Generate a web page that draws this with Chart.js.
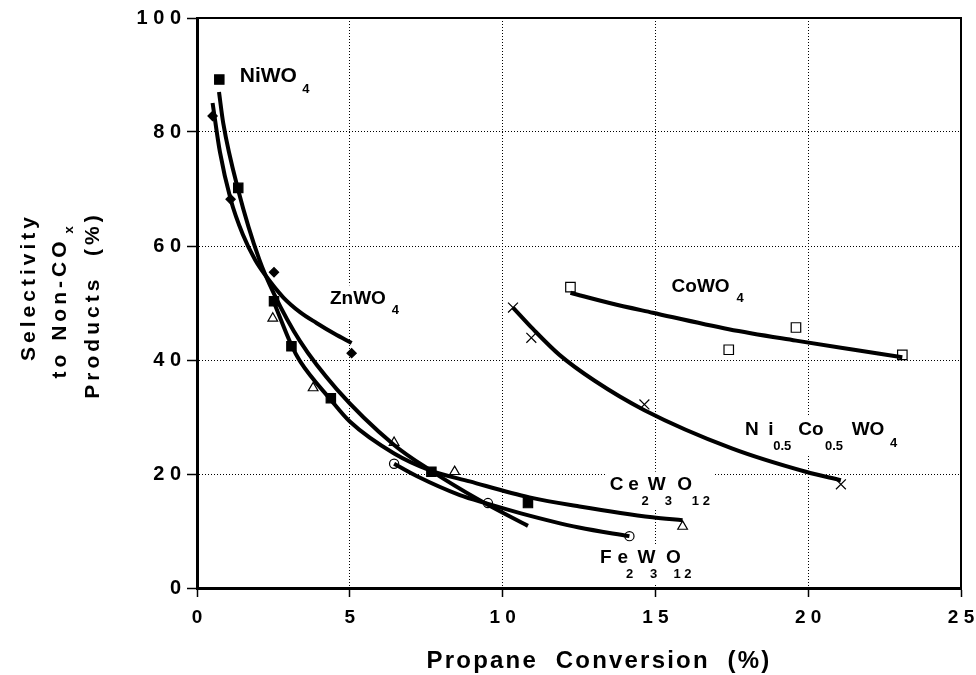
<!DOCTYPE html>
<html>
<head>
<meta charset="utf-8">
<script src="https://cdn.jsdelivr.net/npm/chart.js@4.4.0/dist/chart.umd.min.js"></script>
<style>
  html, body { margin: 0; padding: 0; background: #fff; }
  #wrap { width: 976px; height: 675px; }
</style>
</head>
<body>
<div id="wrap"><canvas id="chart" width="976" height="675"></canvas></div>
<script>
// axis ticks
const xTicks = [0, 5, 10, 15, 20, 25];
const yTicks = [0, 20, 40, 60, 80, 100];

// measured points (propane conversion %, selectivity %)
const niwoX = [0.73, 1.35, 2.52, 3.09, 4.38, 7.67, 10.83];
const niwoY = [89.2, 70.2, 50.3, 42.4, 33.3, 20.4, 14.9];
const znwoX = [0.51, 1.10, 2.52, 5.06];
const znwoY = [82.8, 68.2, 55.4, 41.2];
const cewoX = [2.48, 3.80, 6.45, 8.43, 15.89];
const cewoY = [47.3, 35.1, 25.5, 20.4, 10.8];
const fewoX = [6.45, 9.52, 14.15];
const fewoY = [21.8, 14.9, 9.1];
const cowoX = [12.22, 17.4, 19.6, 23.08];
const cowoY = [52.8, 41.8, 45.7, 40.9];
const nicoX = [10.34, 10.94, 14.64, 21.07];
const nicoY = [49.2, 43.9, 32.2, 18.2];

// fitted curves
const niwoFitX = [0.72, 0.86, 1.35, 2.04, 2.52, 3.37, 4.57, 6.45, 7.65, 9.25, 10.83];
const niwoFitY = [87.0, 81.5, 69.8, 57.6, 51.6, 43.3, 34.9, 25.1, 20.6, 15.4, 10.9];
const znwoFitX = [0.51, 0.75, 1.1, 1.5, 1.9, 2.22, 2.82, 3.37, 3.91, 4.5, 5.06];
const znwoFitY = [85.1, 76.5, 68.2, 62.0, 57.6, 55.0, 51.0, 48.4, 46.5, 44.6, 43.0];
const cewoFitX = [2.52, 3.09, 3.37, 4.38, 5.0, 6.45, 7.65, 8.92, 10.88, 12.52, 14.9, 15.89];
const cewoFitY = [50.1, 42.6, 39.8, 33.0, 29.2, 23.6, 20.6, 18.7, 15.9, 14.3, 12.4, 11.9];
const fewoFitX = [6.45, 7.2, 8.6, 9.5, 10.6, 12.5, 14.15];
const fewoFitY = [21.8, 19.6, 16.3, 14.8, 13.1, 10.6, 9.1];
const cowoFitX = [12.22, 13.5, 14.91, 17.4, 19.6, 21.5, 23.08];
const cowoFitY = [51.8, 50.0, 48.3, 45.4, 43.4, 41.8, 40.5];
const nicoFitX = [10.34, 11.0, 11.86, 13.0, 14.64, 17.5, 19.92, 21.07];
const nicoFitY = [49.2, 45.4, 40.9, 36.4, 31.2, 24.5, 20.4, 18.9];

const FONT = "'Liberation Sans', Arial, Helvetica, sans-serif";

const pts = (xs, ys) => xs.map((x, i) => ({ x: x, y: ys[i] }));

function markers(xs, ys, style, radius, fill) {
    return {
        data: pts(xs, ys),
        showLine: false,
        pointStyle: style,
        pointRadius: radius,
        pointHoverRadius: radius,
        pointBorderWidth: 1.2,
        pointBorderColor: '#000',
        pointBackgroundColor: fill
    };
}

function curve(xs, ys) {
    return {
        data: pts(xs, ys),
        showLine: true,
        borderColor: '#000',
        borderWidth: 4,
        pointRadius: 0,
        cubicInterpolationMode: 'monotone',
        fill: false
    };
}

// text annotations: anchor in data units, pieces offset in px [text, dx, dy, size]
const notes = [
    { x: 1.40, y: 88.7, parts: [['NiWO', 0, 0, 21], ['4', 62.5, 10.6, 13]] },
    { x: 4.35, y: 49.9, parts: [['ZnWO', 0, 0, 19], ['4', 61.7, 10.7, 13]] },
    { x: 15.53, y: 52.0, parts: [['CoWO', 0, 0, 19], ['4', 65, 10, 13]] },
    { x: 17.93, y: 26.8, parts: [['N', 0, 0, 19], ['i', 23.3, 0, 19], ['Co', 53.3, 0, 19], ['WO', 106.7, 0, 19],
        ['0.5', 28.3, 15, 13], ['0.5', 80, 15, 13], ['4', 145, 11.7, 13]] },
    { x: 13.51, y: 17.2, parts: [['C', 0, 0, 19], ['e', 18.3, 0, 19], ['W', 38, 0, 19], ['O', 67.5, 0, 19],
        ['2', 31.7, 15, 13], ['3', 55, 15, 13], ['1 2', 82, 15, 13]] },
    { x: 13.19, y: 4.33, parts: [['F', 0, 0, 19], ['e', 17.5, 0, 19], ['W', 37.5, 0, 19], ['O', 65.8, 0, 19],
        ['2', 25.8, 14.7, 13], ['3', 50, 14.7, 13], ['1 2', 73.3, 14.7, 13]] }
];

const overlay = {
    id: 'overlay',
    beforeDatasetsDraw(chart) {
        const { ctx, chartArea: a, scales } = chart;
        ctx.save();
        // top and right frame
        ctx.strokeStyle = '#000';
        ctx.lineWidth = 2;
        ctx.beginPath();
        ctx.moveTo(a.left, a.top);
        ctx.lineTo(a.right, a.top);
        ctx.lineTo(a.right, a.bottom);
        ctx.stroke();

        // annotations with white backing, like the original
        ctx.textBaseline = 'alphabetic';
        ctx.textAlign = 'left';
        notes.forEach(n => {
            const ax = scales.x.getPixelForValue(n.x);
            const ay = scales.y.getPixelForValue(n.y);
            let x0 = Infinity, x1 = -Infinity, y0 = Infinity, y1 = -Infinity;
            n.parts.forEach(([t, dx, dy, s]) => {
                ctx.font = 'bold ' + s + 'px ' + FONT;
                const w = ctx.measureText(t).width;
                x0 = Math.min(x0, ax + dx);
                x1 = Math.max(x1, ax + dx + w);
                y0 = Math.min(y0, ay + dy - s * 0.75);
                y1 = Math.max(y1, ay + dy + 1);
            });
            ctx.fillStyle = '#fff';
            ctx.fillRect(x0 - 4, y0 - 4, x1 - x0 + 8, y1 - y0 + 8);
            ctx.fillStyle = '#000';
            n.parts.forEach(([t, dx, dy, s]) => {
                ctx.font = 'bold ' + s + 'px ' + FONT;
                ctx.fillText(t, ax + dx, ay + dy);
            });
        });
        ctx.restore();
    },
    afterDraw(chart) {
        const { ctx } = chart;
        ctx.save();
        ctx.fillStyle = '#000';
        // x axis title
        ctx.font = 'bold 24px ' + FONT;
        ctx.letterSpacing = '2.2px';
        ctx.textAlign = 'center';
        ctx.textBaseline = 'middle';
        ctx.fillText('Propane  Conversion  (%)', 599, 661);

        // y axis title, three rotated lines
        ctx.letterSpacing = '4px';
        ctx.font = 'bold 21px ' + FONT;
        const line = (txt, cx, cy) => {
            ctx.save();
            ctx.translate(cx, cy);
            ctx.rotate(-Math.PI / 2);
            ctx.fillText(txt, 0, 0);
            ctx.restore();
        };
        line('Selectivity', 29, 287);
        line('Products  (%)', 93, 305);
        // middle line with subscript x
        ctx.save();
        ctx.translate(60, 300);
        ctx.rotate(-Math.PI / 2);
        ctx.textAlign = 'left';
        const main = 'to Non-CO';
        const w = ctx.measureText(main).width;
        ctx.fillText(main, -w / 2 - 8, 0);
        ctx.font = 'bold 13px ' + FONT;
        ctx.letterSpacing = '0px';
        ctx.fillText('x', w / 2 - 4, 9);
        ctx.restore();
        ctx.restore();
    }
};

const tickText = v => String(v).split('').join(' ');

new Chart(document.getElementById('chart'), {
    type: 'scatter',
    data: {
        datasets: [
            curve(niwoFitX, niwoFitY),
            curve(znwoFitX, znwoFitY),
            curve(cewoFitX, cewoFitY),
            curve(fewoFitX, fewoFitY),
            curve(cowoFitX, cowoFitY),
            curve(nicoFitX, nicoFitY),
            markers(niwoX, niwoY, 'rect', 6.6, '#000'),
            markers(znwoX, znwoY, 'rectRot', 4.6, '#000'),
            markers(cewoX, cewoY, 'triangle', 5.6, '#fff'),
            markers(fewoX, fewoY, 'circle', 4.6, '#fff'),
            markers(cowoX, cowoY, 'rect', 6.7, '#fff'),
            markers(nicoX, nicoY, 'crossRot', 7, '#fff')
        ]
    },
    options: {
        responsive: false,
        animation: false,
        devicePixelRatio: 1,
        layout: { padding: { top: 18, right: 15, left: 0, bottom: 0 } },
        plugins: {
            legend: { display: false },
            tooltip: { enabled: false },
            title: { display: false }
        },
        scales: {
            x: {
                type: 'linear',
                min: 0,
                max: 25,
                afterBuildTicks: s => { s.ticks = xTicks.map(v => ({ value: v })); },
                afterFit: s => { s.height = 87; s.paddingLeft = 0; s.paddingRight = 0; },
                grid: { color: '#000', lineWidth: 1, tickLength: 9, tickColor: '#000', tickWidth: 1.5 },
                border: { display: true, color: '#000', width: 3, dash: [1, 2] },
                ticks: {
                    color: '#000',
                    padding: 9,
                    maxRotation: 0,
                    font: { family: FONT, size: 19, weight: 'bold' },
                    callback: v => tickText(v)
                }
            },
            y: {
                type: 'linear',
                min: 0,
                max: 100,
                afterBuildTicks: s => { s.ticks = yTicks.map(v => ({ value: v })); },
                afterFit: s => { s.width = 197; s.paddingTop = 0; s.paddingBottom = 0; },
                grid: { color: '#000', lineWidth: 1, tickLength: 10, tickColor: '#000', tickWidth: 1.5 },
                border: { display: true, color: '#000', width: 3, dash: [1, 2] },
                ticks: {
                    color: '#000',
                    padding: 6,
                    font: { family: FONT, size: 20, weight: 'bold' },
                    callback: v => tickText(v)
                }
            }
        }
    },
    plugins: [overlay]
});
</script>
</body>
</html>
